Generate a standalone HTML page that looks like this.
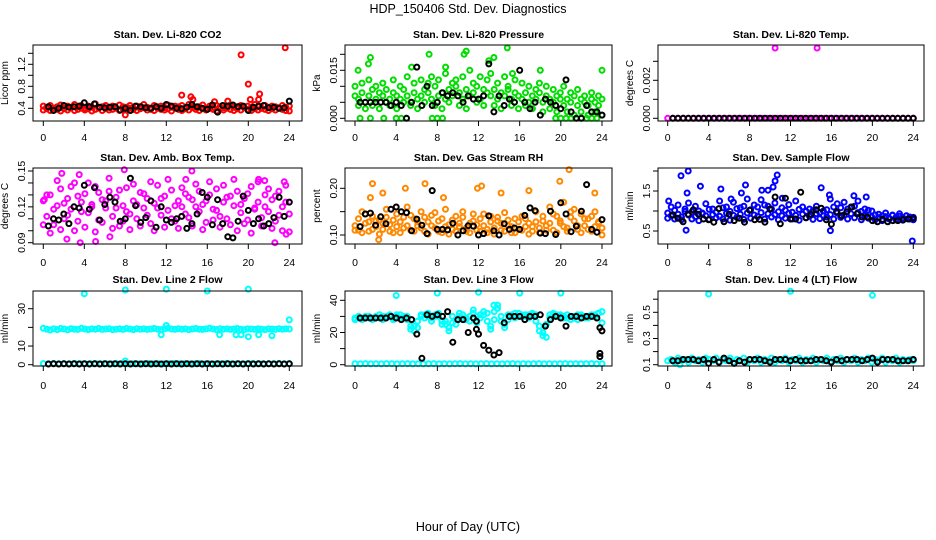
<!DOCTYPE html>
<html><head><meta charset="utf-8">
<style>
html,body{margin:0;padding:0;background:#fff;}
svg{display:block;font-family:"Liberation Sans",sans-serif;}
</style></head>
<body>
<svg id="chart" width="936" height="540" viewBox="0 0 936 540" xmlns="http://www.w3.org/2000/svg">
<rect width="936" height="540" fill="#fff"/>
<text x="468" y="13" font-size="12.5" text-anchor="middle">HDP_150406  Std. Dev. Diagnostics</text>
<text x="468" y="531" font-size="12.5" text-anchor="middle">Hour of Day (UTC)</text>
</svg>
<script>
const xTicks=[0,4,8,12,16,20,24];
// CO2
const co2Red1=[0.44,0.42,0.45,0.40,0.43,0.46,0.41,0.44,0.42,0.47,0.43,0.45,0.40,0.44,0.42,0.48,0.41,0.43,0.45,0.42,0.44,0.40,0.46,0.43,0.42,0.45,0.41,0.44,0.43,0.47,0.42,0.40,0.45,0.43,0.44,0.41,0.46,0.42,0.44,0.43,0.45,0.41,0.47,0.44,0.42,0.43,0.46,0.40,0.44,0.42,0.45,0.43,0.41,0.44,0.46,0.42,0.43,0.45,0.41,0.44,0.42,0.47,0.43,0.40,0.45,0.42,0.44,0.43,0.41,0.45,0.42,0.44];
const co2Red2=[0.37,0.39,0.36,0.40,0.38,0.35,0.39,0.37,0.41,0.36,0.38,0.40,0.37,0.39,0.35,0.38,0.40,0.36,0.39,0.37,0.38,0.41,0.36,0.39,0.37,0.40,0.38,0.36,0.39,0.41,0.37,0.38,0.36,0.40,0.38,0.37,0.39,0.35,0.40,0.38,0.36,0.39,0.37,0.41,0.38,0.36,0.39,0.37,0.40,0.38,0.35,0.39,0.37,0.40,0.38,0.36,0.39,0.37,0.41,0.38,0.36,0.39,0.37,0.40,0.38,0.36,0.39,0.37,0.40,0.38,0.36,0.35];
const co2OutX=[19.3,23.6,20,21.1,13.5,14.4,20.2,8,14.6,16.7,21,18];
const co2OutY=[1.37,1.50,0.84,0.66,0.64,0.61,0.56,0.28,0.56,0.52,0.56,0.53];
const co2Black=[0.43,0.36,0.40,0.45,0.42,0.43,0.44,0.50,0.43,0.48,0.42,0.41,0.42,0.43,0.37,0.40,0.36,0.44,0.43,0.41,0.40,0.43,0.40,0.47,0.44,0.40,0.39,0.42,0.47,0.43,0.40,0.38,0.46,0.33,0.45,0.44,0.46,0.43,0.44,0.36,0.42,0.44,0.45,0.41,0.42,0.40,0.41,0.53];
// Pressure
const prGreen1=[0.007,0.006,0.008,0.005,0.007,0.009,0.006,0.008,0.007,0.005,0.006,0.008,0.007,0.006,0.009,0.007,0.005,0.008,0.006,0.007,0.009,0.008,0.006,0.010,0.007,0.008,0.006,0.009,0.007,0.010,0.008,0.006,0.009,0.007,0.008,0.010,0.006,0.009,0.008,0.007,0.009,0.006,0.008,0.007,0.009,0.006,0.008,0.007,0.006,0.008,0.005,0.007,0.006,0.008,0.005,0.007,0.006,0.005,0.007,0.006,0.004,0.006,0.005,0.007,0.004,0.006,0.005,0.004,0.006,0.005,0.004,0.006];
const prGreen2=[0.010,0.004,0.011,0.003,0.012,0.004,0.010,0.003,0.011,0.009,0.004,0.012,0.003,0.010,0.005,0.013,0.004,0.011,0.003,0.012,0.005,0.011,0.013,0.004,0.012,0.003,0.014,0.005,0.011,0.012,0.004,0.013,0.003,0.015,0.011,0.005,0.013,0.004,0.012,0.014,0.004,0.011,0.003,0.013,0.010,0.004,0.012,0.003,0.011,0.004,0.010,0.003,0.009,0.011,0.002,0.010,0.003,0.009,0.002,0.008,0.010,0.002,0.008,0.001,0.009,0.002,0.007,0.001,0.008,0.002,0.007,0.001];
const prOutX=[0.5,1.5,2.8,4,4.5,5,7.5,8,8.5,19.5,20,20.5,21,21.5,22,22.5,23,23.5,0.3,1.3,1.5,7.2,10.6,10.8,14.8,13.5,13,15.3,18,24,8.8,5.5];
const prOutY=[0,0,0,0,0,0,0,0,0,0,0,0,0,0,0,0,0,0,0.015,0.017,0.019,0.020,0.020,0.021,0.022,0.019,0.018,0.014,0.015,0.015,0.016,0.016];
const prBlack=[0.005,0.005,0.005,0.005,0.005,0.005,0.004,0.005,0.004,0.000,0.005,0.016,0.004,0.010,0.004,0.005,0.008,0.007,0.008,0.007,0.005,0.007,0.006,0.006,0.007,0.017,0.002,0.007,0.004,0.006,0.005,0.015,0.005,0.003,0.005,0.001,0.006,0.005,0.004,0.003,0.012,0.002,0.000,0.000,0.004,0.002,0.002,0.001];
// Li-820 Temp
const tmMag=[0,0,0,0,0,0,0,0,0,0,0,0,0,0,0,0,0,0,0,0,0,0,0,0,0,0,0,0,0,0,0,0,0,0,0,0,0,0,0,0,0,0,0,0,0,0,0,0];
const tmOutX=[10.5,14.6];
const tmOutY=[0.0037,0.0037];
const tmBlack=[0,0,0,0,0,0,0,0,0,0,0,0,0,0,0,0,0,0,0,0,0,0,0,0,0,0,0,0,0,0,0,0,0,0,0,0,0,0,0,0,0,0,0,0,0,0,0,0];
// Amb box temp
const abMag1=[0.125,0.112,0.130,0.105,0.121,0.135,0.110,0.127,0.118,0.140,0.108,0.124,0.131,0.115,0.122,0.137,0.109,0.126,0.119,0.133,0.112,0.128,0.104,0.121,0.136,0.114,0.125,0.110,0.132,0.119,0.127,0.106,0.123,0.138,0.113,0.129,0.117,0.134,0.108,0.125,0.120,0.131,0.111,0.126,0.139,0.116,0.122,0.107,0.130,0.118,0.135,0.112,0.124,0.128,0.105,0.121,0.133,0.115,0.127,0.109,0.137,0.119,0.124,0.111,0.130,0.116,0.126,0.108,0.133,0.120,0.138,0.114];
const abMag2=[0.105,0.130,0.098,0.118,0.142,0.101,0.123,0.113,0.137,0.100,0.129,0.116,0.103,0.140,0.120,0.099,0.132,0.107,0.125,0.144,0.102,0.119,0.134,0.108,0.116,0.101,0.139,0.122,0.104,0.131,0.113,0.141,0.100,0.119,0.127,0.103,0.143,0.110,0.121,0.102,0.136,0.114,0.128,0.104,0.120,0.133,0.101,0.125,0.141,0.109,0.117,0.103,0.138,0.110,0.129,0.143,0.100,0.122,0.106,0.131,0.098,0.118,0.141,0.104,0.120,0.135,0.102,0.129,0.113,0.100,0.124,0.099];
const abOutX=[1.8,3.5,2.3,3.6,5.1,7.9,14.5,22.6,23.7,0.1,13.9,6.5,21,21.6,23.5];
const abOutY=[0.148,0.147,0.093,0.090,0.091,0.151,0.150,0.090,0.097,0.126,0.143,0.095,0.143,0.142,0.141];
const abBlack=[0.104,0.110,0.109,0.114,0.106,0.120,0.119,0.138,0.118,0.136,0.109,0.122,0.128,0.124,0.108,0.110,0.144,0.121,0.107,0.111,0.125,0.103,0.120,0.109,0.107,0.110,0.112,0.102,0.106,0.114,0.132,0.128,0.105,0.126,0.106,0.095,0.094,0.108,0.129,0.117,0.106,0.110,0.104,0.106,0.111,0.128,0.112,0.124];
// Gas stream RH
const rhOr1=[0.120,0.110,0.150,0.125,0.108,0.140,0.118,0.132,0.112,0.155,0.122,0.105,0.145,0.128,0.115,0.160,0.110,0.135,0.120,0.150,0.108,0.128,0.142,0.115,0.130,0.105,0.155,0.122,0.112,0.140,0.118,0.150,0.108,0.125,0.145,0.110,0.135,0.120,0.105,0.140,0.115,0.130,0.110,0.148,0.120,0.105,0.135,0.112,0.140,0.118,0.125,0.108,0.150,0.115,0.130,0.120,0.160,0.110,0.140,0.125,0.170,0.115,0.150,0.130,0.112,0.145,0.120,0.135,0.108,0.150,0.125,0.115];
const rhOr2=[0.110,0.135,0.105,0.145,0.128,0.112,0.130,0.102,0.125,0.138,0.108,0.132,0.118,0.105,0.138,0.120,0.142,0.108,0.128,0.115,0.138,0.102,0.120,0.148,0.108,0.135,0.118,0.102,0.132,0.108,0.125,0.138,0.115,0.105,0.130,0.122,0.108,0.145,0.112,0.128,0.102,0.138,0.125,0.108,0.132,0.118,0.105,0.128,0.110,0.135,0.102,0.118,0.128,0.105,0.140,0.110,0.125,0.145,0.105,0.130,0.118,0.108,0.138,0.155,0.120,0.105,0.135,0.112,0.140,0.118,0.128,0.100];
const rhOutX=[2.3,1.7,4.9,6.8,11.9,12.3,19.9,20.8,23.3,2.7,14.2,16.9,1.5,8.6];
const rhOutY=[0.090,0.210,0.200,0.210,0.200,0.205,0.215,0.240,0.190,0.190,0.190,0.195,0.180,0.180];
const rhBlack=[0.118,0.145,0.147,0.121,0.139,0.124,0.155,0.160,0.150,0.148,0.109,0.134,0.121,0.103,0.195,0.112,0.112,0.111,0.125,0.100,0.109,0.120,0.119,0.100,0.103,0.141,0.109,0.100,0.124,0.112,0.115,0.112,0.142,0.158,0.152,0.104,0.103,0.151,0.101,0.169,0.145,0.107,0.119,0.151,0.208,0.112,0.106,0.133];
// Sample flow
const sfBlue1=[0.95,0.88,1.02,0.92,0.85,1.05,0.90,0.98,0.86,1.00,0.93,0.88,1.04,0.91,0.97,0.87,1.08,0.94,0.99,0.89,1.06,0.92,1.12,0.95,1.03,0.90,1.10,0.96,1.15,0.93,1.05,0.91,0.98,0.88,1.02,0.94,0.97,0.89,1.04,0.92,0.99,0.87,1.01,0.93,0.96,0.88,1.03,0.91,1.10,0.95,1.08,0.90,1.05,0.93,1.12,0.96,0.99,0.88,1.02,0.85,0.90,0.83,0.88,0.86,0.82,0.89,0.84,0.87,0.83,0.88,0.85,0.84];
const sfBlue2=[0.82,1.10,0.80,1.15,0.78,0.99,1.20,0.80,1.12,0.76,0.95,1.18,0.79,1.05,0.83,1.25,0.80,1.10,0.77,1.22,0.84,1.08,0.79,1.30,0.82,1.15,0.86,1.28,0.80,1.12,0.85,1.20,0.78,1.08,0.82,1.16,0.80,1.25,0.77,1.10,0.83,1.05,0.79,1.12,0.81,1.00,0.85,1.30,0.80,1.18,0.84,1.22,0.80,1.10,0.83,1.25,0.78,1.05,0.82,1.00,0.78,0.92,0.76,0.95,0.80,0.90,0.78,0.93,0.77,0.88,0.80,0.78];
const sfOutX=[1.3,2.0,1.9,3.2,5.2,7.2,7.6,9.2,9.8,10.5,10.7,10.3,15.0,1.8,15.9,23.9,6.2,11.2,0.1,15.8,18.2,19.4];
const sfOutY=[1.88,2.00,1.45,1.62,1.55,1.45,1.65,1.52,1.52,1.75,1.90,1.60,1.58,0.52,0.51,0.25,1.30,1.32,1.25,1.40,1.38,1.35];
const sfBlack=[0.90,0.82,0.73,0.92,1.03,0.92,0.80,0.78,0.72,1.06,0.73,0.92,0.76,0.82,0.72,1.02,0.78,0.79,0.72,1.05,1.35,0.68,1.32,0.80,0.80,1.47,0.83,0.92,1.03,1.07,0.78,0.67,0.98,0.88,0.98,1.10,0.93,0.85,0.85,0.76,0.73,0.79,0.73,0.76,0.76,0.78,0.80,0.82];
// Line 2 flow
const l2Cyan1=[19.5,19.0,18.6,19.2,18.8,19.4,19.1,18.7,19.3,19.0,18.9,19.5,19.1,18.8,19.2,19.0,19.4,18.9,19.1,19.3,18.8,19.0,19.2,18.9,19.4,19.1,18.8,19.3,19.0,19.2,18.9,19.1,19.4,19.0,18.8,19.2,19.6,19.1,18.9,19.3,19.0,19.2,18.8,19.1,19.4,19.0,18.9,19.2,19.5,19.1,18.8,19.3,19.0,19.2,18.9,19.1,19.4,19.0,18.8,19.2,19.1,18.9,19.3,19.0,18.8,19.2,19.1,18.9,19.3,19.0,19.2,19.1];
const l2CyanLow=[0.6,0.5,0.7,0.5,0.6,0.5,0.7,0.6,0.5,0.6,0.7,0.5,0.6,0.5,0.6,0.7,0.5,0.6,0.5,0.6,0.7,0.5,0.6,0.5,0.6,0.7,0.5,0.6,0.5,0.6,0.7,0.5,0.6,0.5,0.6,0.7,0.5,0.6,0.5,0.6,0.7,0.5,0.6,0.5,0.6,0.7,0.5,0.6];
const l2OutX=[4,8,12,16,20,24,8,12,11.5,17.2,18.8,20,21,22.3,19.3];
const l2OutY=[38,40,40.5,39.5,40.5,24,2,21,16,16,16,15,16,15.5,16];
const l2Black=[0.4,0.5,0.4,0.5,0.4,0.5,0.4,0.5,0.4,0.5,0.4,0.5,0.4,0.5,0.4,0.5,0.4,0.5,0.4,0.5,0.4,0.5,0.4,0.5,0.4,0.5,0.4,0.5,0.4,0.5,0.4,0.5,0.4,0.5,0.4,0.5,0.4,0.5,0.4,0.5,0.4,0.5,0.4,0.5,0.4,0.5,0.4,0.5];
// Line 3 flow
const l3Cyan1=[29,29,29,30,29,29,30,29,30,30,30,29,30,31,29,30,24,21,27,30,31,30,29,31,30,27,25,21,26,28,30,31,29,27,32,30,31,33,27,24,33,35,30,23,28,31,32,30,31,30,31,31,27,21,18,25,31,32,31,30,30,29,28,30,31,30,30,29,30,31,32,33];
const l3Cyan2=[28,30,28,29,30,28,29,31,28,29,31,28,31,29,30,28,22,24,23,31,29,32,27,30,32,25,27,23,30,25,32,29,28,30,34,26,29,31,32,22,28,37,27,25,31,30,29,32,30,31,29,32,31,24,20,17,29,31,30,31,29,31,30,29,28,31,29,30,31,30,32,26];
const l3CyanLow=[0.6,0.5,0.7,0.5,0.6,0.5,0.7,0.6,0.5,0.6,0.7,0.5,0.6,0.5,0.6,0.7,0.5,0.6,0.5,0.6,0.7,0.5,0.6,0.5,0.6,0.7,0.5,0.6,0.5,0.6,0.7,0.5,0.6,0.5,0.6,0.7,0.5,0.6,0.5,0.6,0.7,0.5,0.6,0.5,0.6,0.7,0.5,0.6];
const l3OutX=[4,8,12,16,20,13.5,13.8];
const l3OutY=[43,44.5,45,44.5,44.5,37,35];
const l3Black=[29,29,29,29,29,29,30,29,28,29,28,19,4,31,30,31,30,33,14,28,28,20,29,19,12,9,6,7.5,26,30,30,30,28,30,30,31,24,28,30,29,24,30,30,29,30,30,29,21];
const l3BlkX=[23.8,23.8,23.8,11.8,11.8];
const l3BlkY=[7,5,23,22,27];
// Line 4 flow
const l4Cyan1=[0.13,0.14,0.12,0.15,0.13,0.14,0.12,0.15,0.13,0.14,0.12,0.15,0.14,0.13,0.15,0.12,0.14,0.13,0.15,0.12,0.14,0.13,0.15,0.12,0.14,0.13,0.15,0.12,0.14,0.13,0.15,0.12,0.14,0.13,0.15,0.12,0.14,0.13,0.15,0.12,0.14,0.13,0.15,0.12,0.14,0.13,0.15,0.12,0.14,0.13,0.15,0.12,0.14,0.13,0.15,0.12,0.14,0.13,0.15,0.12,0.14,0.13,0.15,0.12,0.14,0.13,0.15,0.12,0.14,0.13,0.14,0.13];
const l4OutX=[4,12,20,1.2];
const l4OutY=[0.64,0.66,0.63,0.10];
const l4Black=[0.13,0.13,0.14,0.14,0.14,0.13,0.14,0.11,0.14,0.12,0.15,0.13,0.11,0.13,0.12,0.14,0.14,0.14,0.13,0.12,0.14,0.14,0.14,0.13,0.14,0.13,0.13,0.13,0.14,0.14,0.13,0.12,0.14,0.13,0.14,0.14,0.14,0.13,0.14,0.15,0.12,0.14,0.14,0.14,0.13,0.13,0.13,0.14];

const NS='http://www.w3.org/2000/svg';
const svg=document.getElementById('chart');
const cols=[{x0:33,x1:302,h0:43.3,h24:289.3},{x0:345,x1:612,h0:355,h24:602},{x0:658,x1:924,h0:667.7,h24:913.3}];
const rows=[{y0:45,y1:121,ty:38,lx:141},{y0:168,y1:244,ty:161,lx:266},{y0:291,y1:366,ty:283,lx:389}];
const panels=[
 {r:0,c:0,title:'Stan. Dev. Li-820 CO2',ylab:'Licor ppm',v1:0.4,p1:108.3,v2:1.2,p2:64.3,ticks:[0.4,0.6,0.8,1.0,1.2,1.4],labs:[0.4,0.8,1.2],fmt:1,col:'#ff0000',series:[co2Red1,co2Red2],low:null,ox:co2OutX,oy:co2OutY,blk:co2Black},
 {r:0,c:1,title:'Stan. Dev. Li-820 Pressure',ylab:'kPa',v1:0,p1:118.3,v2:0.015,p2:70.3,ticks:[0,0.005,0.010,0.015,0.020],labs:[0,0.015],fmt:3,col:'#00dd00',series:[prGreen1,prGreen2],low:null,ox:prOutX,oy:prOutY,blk:prBlack},
 {r:0,c:2,title:'Stan. Dev. Li-820 Temp.',ylab:'degrees C',v1:0,p1:118.3,v2:0.002,p2:80.3,ticks:[0,0.001,0.002,0.003],labs:[0,0.002],fmt:3,col:'#ff00ff',series:[tmMag],low:null,ox:tmOutX,oy:tmOutY,blk:tmBlack},
 {r:1,c:0,title:'Stan. Dev. Amb. Box Temp.',ylab:'degrees C',v1:0.09,p1:242.7,v2:0.15,p2:171,ticks:[0.09,0.10,0.11,0.12,0.13,0.14,0.15],labs:[0.09,0.12,0.15],fmt:2,col:'#ff00ff',series:[abMag1,abMag2],low:null,ox:abOutX,oy:abOutY,blk:abBlack},
 {r:1,c:1,title:'Stan. Dev. Gas Stream RH',ylab:'percent',v1:0.10,p1:235,v2:0.20,p2:188.3,ticks:[0.10,0.15,0.20],labs:[0.10,0.20],fmt:2,col:'#ff8800',series:[rhOr1,rhOr2],low:null,ox:rhOutX,oy:rhOutY,blk:rhBlack},
 {r:1,c:2,title:'Stan. Dev. Sample Flow',ylab:'ml/min',v1:0.5,p1:231,v2:1.5,p2:191,ticks:[0.5,1.0,1.5,2.0],labs:[0.5,1.5],fmt:1,col:'#0000ff',series:[sfBlue1,sfBlue2],low:null,ox:sfOutX,oy:sfOutY,blk:sfBlack},
 {r:2,c:0,title:'Stan. Dev. Line 2 Flow',ylab:'ml/min',v1:0,p1:364.7,v2:30,p2:308.7,ticks:[0,10,20,30],labs:[0,10,30],fmt:0,col:'#00ffff',series:[l2Cyan1],low:l2CyanLow,ox:l2OutX,oy:l2OutY,blk:l2Black},
 {r:2,c:1,title:'Stan. Dev. Line 3 Flow',ylab:'ml/min',v1:0,p1:364.7,v2:40,p2:300.3,ticks:[0,10,20,30,40],labs:[0,20,40],fmt:0,col:'#00ffff',series:[l3Cyan1,l3Cyan2],low:l3CyanLow,ox:l3OutX,oy:l3OutY,blk:l3Black,bx:l3BlkX,by:l3BlkY},
 {r:2,c:2,title:'Stan. Dev. Line 4 (LT) Flow',ylab:'ml/min',v1:0.1,p1:364.7,v2:0.5,p2:312.3,ticks:[0.1,0.2,0.3,0.4,0.5,0.6],labs:[0.1,0.3,0.5],fmt:1,col:'#00ffff',series:[l4Cyan1],low:null,ox:l4OutX,oy:l4OutY,blk:l4Black}
];
function mk(tag,attrs,parent){const e=document.createElementNS(NS,tag);for(const k in attrs)e.setAttribute(k,attrs[k]);(parent||svg).appendChild(e);return e;}
panels.forEach((p,pi)=>{
  const C=cols[p.c],R=rows[p.r];
  const g=mk('g',{});
  
  
  const xs=v=>C.h0+(C.h24-C.h0)*v/24;
  const ys=v=>p.p1+(p.p2-p.p1)*(v-p.v1)/(p.v2-p.v1);
  const t=mk('text',{x:(C.x0+C.x1)/2,y:R.ty,'font-size':'10.5','font-weight':'bold','text-anchor':'middle'},g);
  t.textContent=p.title;
  
  
  const yl=mk('text',{x:C.x0-25,y:(R.y0+R.y1)/2,'font-size':'10','text-anchor':'middle',transform:`rotate(-90 ${C.x0-25} ${(R.y0+R.y1)/2})`},g);
  yl.textContent=p.ylab;
  
  
  const pts=mk('g',{fill:'none','stroke-width':'2'},g);
  
  
  const dot=(x,y,c)=>{const py=ys(y);if(py<R.y0-3||py>R.y1+3)return;const e=mk('circle',{cx:xs(x).toFixed(1),cy:py.toFixed(1),r:'2.5',stroke:c},pts);
    
    };
  p.series.forEach(s=>s.forEach((v,i)=>dot(i*24/(s.length-1),v,p.col)));
  if(p.low)p.low.forEach((v,i)=>dot(i*24/(p.low.length-1),v,p.col));
  p.ox.forEach((x,i)=>dot(x,p.oy[i],p.col));
  p.blk.forEach((v,i)=>dot(0.5+i*0.5,v,'#000'));
  if(p.bx)p.bx.forEach((x,i)=>dot(x,p.by[i],'#000'));
  const box=mk('rect',{x:C.x0,y:R.y0,width:C.x1-C.x0,height:R.y1-R.y0,fill:'none',stroke:'#000','stroke-width':'1'},g);
  
  
  xTicks.forEach(v=>{const x=xs(v);mk('line',{x1:x,x2:x,y1:R.y1,y2:R.y1+5,stroke:'#000'},g);
    const tl=mk('text',{x:x,y:R.lx,'font-size':'10.5','text-anchor':'middle'},g);tl.textContent=v;
    
    });
  p.ticks.forEach(v=>{const y=ys(v);mk('line',{x1:C.x0-5,x2:C.x0,y1:y,y2:y,stroke:'#000'},g);});
  p.labs.forEach(v=>{const y=ys(v),x=C.x0-12;const tl=mk('text',{x:x,y:y+4,'font-size':'10.5','text-anchor':'middle',transform:`rotate(-90 ${x} ${y})`},g);
    tl.textContent=v.toFixed(p.fmt);
    
    });
});
</script>
</body></html>
